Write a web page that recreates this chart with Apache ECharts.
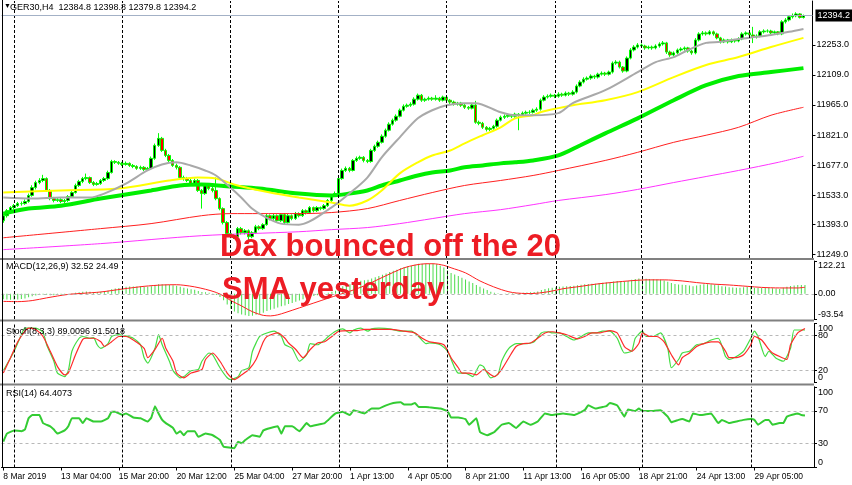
<!DOCTYPE html>
<html><head><meta charset="utf-8">
<script src="https://cdn.jsdelivr.net/npm/echarts@6/dist/echarts.min.js"></script>
<style>html,body{margin:0;padding:0;background:#fff}#c{width:852px;height:485px}</style>
</head><body><div id="c"></div>
<script>
// ---------- DATA ----------
const slotCount = 225; // bar slots incl. right-hand chart shift
const timeLabels = [[0,'8 Mar 2019'],[16,'13 Mar 04:00'],[32,'15 Mar 20:00'],[48,'20 Mar 12:00'],[64,'25 Mar 04:00'],[80,'27 Mar 20:00'],[96,'1 Apr 13:00'],[112,'4 Apr 05:00'],[128,'8 Apr 21:00'],[144,'11 Apr 13:00'],[160,'16 Apr 05:00'],[176,'18 Apr 21:00'],[192,'24 Apr 13:00'],[208,'29 Apr 05:00']];
const weekStarts = [3,33,63,93,123,153,177,207];
const priceTicks = [11249,11393,11533,11677,11821,11965,12109,12253];
const macdTicks = [-93.54,0,122.21];
const stochInnerTicks = [20,80];
const rsiInnerTicks = [30,70];
const edgeTicks = [0,100];
const lastPrice = 12394.2;
// [open, close, low, high]
const ohlc = [
[11410,11434,11400,11445],[11434,11458,11425,11466],[11458,11473,11450,11480],[11473,11482,11465,11490],[11482,11492,11476,11500],
[11492,11492,11482,11502],[11492,11502,11486,11512],[11502,11531,11496,11540],[11531,11569,11525,11580],[11569,11593,11560,11602],
[11593,11603,11585,11614],[11603,11612,11595,11630],[11612,11555,11548,11618],[11555,11516,11508,11562],[11516,11507,11498,11524],
[11507,11511,11500,11520],[11511,11502,11494,11518],[11502,11507,11495,11514],[11507,11526,11500,11533],[11526,11545,11520,11552],
[11545,11579,11540,11588],[11579,11598,11572,11606],[11598,11612,11590,11620],[11612,11617,11604,11636],[11617,11593,11586,11622],
[11593,11584,11576,11600],[11584,11588,11578,11596],[11588,11603,11582,11610],[11603,11612,11596,11620],[11612,11641,11606,11650],
[11641,11694,11636,11702],[11694,11690,11682,11700],[11690,11685,11678,11696],[11685,11680,11672,11692],[11680,11685,11674,11694],
[11685,11675,11668,11690],[11675,11670,11662,11682],[11670,11661,11654,11676],[11661,11666,11654,11674],[11666,11656,11648,11672],
[11656,11661,11650,11668],[11661,11709,11655,11718],[11709,11771,11702,11780],[11771,11805,11764,11830],[11805,11747,11740,11812],
[11747,11723,11715,11755],[11723,11699,11690,11730],[11699,11675,11668,11706],[11675,11666,11656,11684],[11666,11617,11610,11672],
[11617,11612,11602,11626],[11612,11603,11595,11620],[11603,11588,11580,11610],[11588,11603,11582,11612],[11603,11555,11548,11610],
[11555,11540,11468,11562],[11540,11579,11534,11588],[11579,11564,11556,11586],[11564,11555,11546,11572],[11555,11516,11508,11617],
[11516,11468,11460,11522],[11468,11401,11392,11474],[11401,11348,11340,11408],[11348,11338,11326,11356],[11338,11333,11322,11346],
[11333,11372,11326,11380],[11372,11352,11344,11380],[11352,11362,11344,11370],[11362,11333,11304,11368],[11333,11352,11326,11360],
[11352,11381,11346,11390],[11381,11372,11364,11388],[11372,11391,11366,11398],[11391,11434,11386,11442],[11434,11420,11412,11440],
[11420,11434,11414,11442],[11434,11410,11402,11440],[11410,11439,11404,11446],[11439,11401,11394,11446],[11401,11434,11396,11442],
[11434,11420,11412,11440],[11420,11444,11414,11452],[11444,11434,11426,11450],[11434,11458,11428,11466],[11458,11449,11440,11464],
[11449,11473,11444,11480],[11473,11458,11450,11478],[11458,11473,11452,11480],[11473,11468,11460,11478],[11468,11482,11462,11490],
[11482,11507,11476,11514],[11507,11531,11500,11538],[11531,11540,11524,11550],[11540,11612,11534,11620],[11612,11651,11606,11660],
[11651,11661,11644,11670],[11661,11651,11642,11668],[11651,11699,11646,11706],[11699,11709,11692,11718],[11709,11714,11702,11722],
[11714,11699,11690,11720],[11699,11694,11686,11706],[11694,11747,11688,11755],[11747,11767,11740,11775],[11767,11786,11760,11794],
[11786,11815,11780,11824],[11815,11844,11808,11852],[11844,11873,11838,11882],[11873,11892,11866,11900],[11892,11911,11885,11920],
[11911,11940,11905,11948],[11940,11959,11934,11968],[11959,11964,11952,11972],[11964,11969,11956,11978],[11969,11993,11962,12002],
[11993,12012,11986,12020],[12012,11988,11980,12018],[11988,11993,11980,12000],[11993,11998,11986,12006],[11998,11993,11985,12004],
[11993,11998,11986,12012],[11998,11988,11980,12004],[11988,12003,11982,12010],[12003,11988,11980,12008],[11988,11979,11970,11994],
[11979,11969,11962,11986],[11969,11974,11962,11980],[11974,11964,11956,11980],[11964,11954,11946,11970],[11954,11950,11942,11960],
[11950,11965,11944,11972],[11965,11882,11875,11985],[11882,11877,11868,11890],[11877,11858,11850,11884],[11858,11848,11838,11864],
[11848,11853,11840,11860],[11853,11863,11846,11870],[11863,11892,11856,11900],[11892,11906,11886,11914],[11906,11911,11898,11920],
[11911,11916,11904,11924],[11916,11911,11902,11922],[11911,11921,11904,11928],[11921,11916,11844,11926],[11916,11926,11910,11934],
[11926,11930,11918,11938],[11930,11930,11922,11940],[11930,11940,11924,11948],[11940,11945,11932,11954],[11945,11988,11938,11996],
[11988,12003,11982,12012],[12003,12007,11996,12016],[12007,12012,12000,12020],[12012,12007,11998,12018],[12007,12017,12000,12026],
[12017,12012,12004,12024],[12012,12022,12006,12030],[12022,12017,12008,12028],[12017,12027,12010,12036],[12027,12056,12020,12064],
[12056,12075,12050,12084],[12075,12089,12068,12098],[12089,12094,12082,12102],[12094,12104,12086,12112],[12104,12099,12090,12110],
[12099,12113,12092,12120],[12113,12118,12106,12126],[12118,12113,12104,12124],[12113,12123,12106,12130],[12123,12166,12116,12174],
[12166,12171,12158,12180],[12171,12147,12140,12178],[12147,12128,12120,12152],[12128,12190,12122,12198],[12190,12229,12184,12238],
[12229,12243,12222,12252],[12243,12253,12236,12262],[12253,12248,12240,12260],[12248,12239,12230,12254],[12239,12243,12232,12250],
[12243,12239,12230,12250],[12239,12248,12232,12256],[12248,12258,12240,12266],[12258,12263,12250,12272],[12263,12219,12210,12268],
[12219,12205,12196,12226],[12205,12215,12198,12222],[12215,12229,12208,12236],[12229,12234,12222,12242],[12234,12239,12226,12246],
[12239,12224,12216,12244],[12224,12215,12206,12230],[12215,12277,12208,12286],[12277,12306,12270,12314],[12306,12311,12298,12320],
[12311,12306,12298,12318],[12306,12316,12300,12324],[12316,12306,12298,12322],[12306,12287,12280,12312],[12287,12268,12260,12292],
[12268,12277,12262,12284],[12277,12268,12260,12282],[12268,12277,12262,12284],[12277,12272,12264,12282],[12272,12282,12266,12290],
[12282,12306,12276,12314],[12306,12311,12298,12318],[12311,12301,12292,12316],[12301,12292,12262,12340],[12292,12296,12284,12304],
[12296,12316,12290,12324],[12316,12320,12308,12328],[12320,12320,12312,12328],[12320,12311,12304,12326],[12311,12316,12304,12322],
[12316,12306,12300,12320],[12306,12364,12300,12372],[12364,12373,12356,12382],[12373,12388,12366,12396],[12388,12393,12380,12404],
[12393,12402,12386,12410],[12402,12385,12380,12406],[12384.8,12394.2,12379.8,12398.8]
];
// moving averages: [bar index, value]
const maGray = [[0,11521],[8,11516],[16,11521],[24,11521],[28,11540],[34,11588],[40,11651],[44,11680],[48,11690],[52,11675],[56,11651],[59,11627],[63,11569],[66,11521],[69,11468],[72,11434],[77,11396],[82,11391],[91,11473],[96,11540],[101,11617],[105,11714],[110,11810],[115,11901],[119,11940],[123,11964],[128,11974],[131,11974],[138,11930],[142,11916],[147,11916],[154,11926],[158,11974],[167,12036],[176,12123],[181,12171],[186,12195],[190,12229],[195,12263],[199,12268],[204,12282],[209,12292],[213,12301],[218,12316],[222,12330]];
const maYellow = [[0,11545],[16,11555],[32,11564],[46,11603],[54,11617],[59,11612],[65,11579],[74,11545],[82,11521],[91,11497],[96,11482],[101,11507],[105,11555],[110,11637],[115,11690],[119,11723],[124,11747],[128,11781],[133,11820],[138,11858],[142,11901],[147,11916],[149,11930],[154,11950],[158,11964],[167,11988],[176,12027],[186,12099],[195,12157],[204,12195],[213,12243],[222,12287]];
const maGreen = [[0,11444],[7,11468],[16,11482],[27,11516],[41,11555],[49,11579],[55,11584],[63,11574],[71,11564],[82,11540],[91,11531],[96,11540],[101,11555],[105,11579],[110,11603],[115,11627],[119,11641],[124,11651],[128,11666],[133,11675],[138,11685],[142,11690],[147,11699],[154,11723],[160,11771],[167,11829],[176,11901],[186,11988],[195,12060],[204,12104],[213,12123],[222,12142]];
const maRed = [[0,11328],[27,11372],[41,11396],[55,11434],[63,11444],[71,11444],[82,11444],[91,11449],[101,11468],[110,11507],[119,11545],[128,11579],[138,11603],[147,11627],[154,11651],[167,11699],[176,11738],[186,11786],[195,11820],[204,11858],[213,11916],[222,11954]];
const maMagenta = [[0,11271],[27,11300],[55,11338],[82,11357],[91,11367],[101,11377],[110,11396],[119,11420],[128,11444],[138,11463],[147,11487],[154,11507],[167,11535],[176,11560],[186,11593],[195,11622],[204,11651],[215,11690],[222,11719]];
// MACD main (histogram), one value per bar
const macdMain = [-20,-21,-22,-22,-21,-19,-17,-13,-9,-6,-4,-2,-3,-5,-5,-4,-3,-2,0,2,4,6,8,9,8,7,7,8,9,12,17,20,22,24,26,27,27,27,27,26,26,28,32,36,36,35,34,32,30,26,23,20,17,15,11,7,6,4,1,-4,-12,-24,-40,-55,-66,-72,-77,-80,-82,-81,-78,-75,-70,-64,-59,-55,-51,-46,-43,-38,-34,-29,-25,-20,-16,-12,-8,-5,-2,1,4,8,12,20,28,33,36,41,45,49,51,52,57,62,66,71,76,81,86,90,95,99,102,104,108,112,112,113,113,112,110,105,98,88,78,72,66,60,53,46,40,33,26,20,14,8,4,2,0,1,2,2,3,3,4,5,6,7,9,14,18,21,23,24,26,27,28,29,30,32,34,36,37,38,38,40,41,42,43,46,48,47,45,48,52,55,57,57,56,55,54,53,52,50,45,40,37,35,34,33,31,28,31,34,36,36,36,35,32,28,27,25,24,23,23,25,26,25,23,22,22,22,22,21,20,18,23,26,29,31,33,33,32.52];
const macdSignal = [[0,-28],[4,-29],[8,-25],[12,-15],[15,-8],[18,-2],[22,2],[27,7],[33,18],[39,28],[44,33],[48,34],[50,32],[53,26],[56,17],[59,5],[61,-8],[63,-25],[66,-45],[68,-60],[70,-72],[72,-80],[74,-82],[76,-78],[78,-70],[82,-52],[86,-34],[90,-16],[93,-3],[96,10],[100,30],[104,55],[108,80],[111,97],[114,107],[117,112],[119,112],[122,106],[124,97],[128,78],[132,48],[137,20],[141,5],[146,1],[151,8],[155,19],[160,28],[164,36],[169,43],[174,49],[178,52],[183,52],[188,48],[192,42],[197,36],[201,33],[206,28],[210,24],[215,22],[220,22],[222,24.49]];
const stochMain = [[0,20],[3,53],[5,81],[6,92],[9,92],[11,85],[12,64],[14,36],[15,16],[17,10],[18,20],[19,53],[21,75],[22,78],[24,75],[25,76],[26,64],[27,58],[29,66],[30,78],[32,81],[33,80],[36,75],[38,64],[39,42],[40,33],[42,58],[43,81],[44,64],[46,36],[47,20],[49,8],[50,10],[52,20],[54,22],[55,36],[57,50],[58,47],[60,25],[62,8],[63,5],[65,10],[66,20],[68,25],[69,53],[71,78],[73,84],[75,87],[77,78],[78,64],[80,58],[82,36],[84,47],[85,66],[87,64],[89,72],[90,78],[92,87],[94,91],[96,84],[97,89],[99,92],[101,87],[102,91],[104,92],[107,91],[110,87],[113,87],[115,78],[117,66],[118,67],[121,64],[123,53],[125,25],[126,16],[128,16],[130,10],[132,30],[133,27],[135,8],[137,14],[138,36],[140,58],[142,66],[145,66],[147,69],[149,84],[151,86],[152,84],[154,84],[156,78],[158,72],[160,78],[162,84],[164,84],[166,87],[168,87],[170,75],[172,50],[174,53],[175,75],[177,87],[178,78],[180,78],[182,84],[184,58],[185,25],[187,39],[188,50],[190,53],[192,64],[194,66],[196,72],[198,75],[200,44],[201,39],[203,44],[205,53],[207,75],[208,87],[209,78],[211,44],[212,53],[214,41],[216,36],[218,58],[219,89],[221,89],[222,89.01]];
const stochSignal = [[0,16],[2,42],[4,69],[6,87],[7,92],[9,90],[11,78],[13,53],[15,27],[17,13],[18,16],[20,47],[22,73],[23,75],[25,75],[27,69],[28,61],[30,69],[32,78],[34,78],[36,72],[39,58],[40,42],[42,56],[44,75],[45,58],[47,36],[48,16],[50,8],[52,16],[55,22],[56,39],[58,50],[60,36],[62,16],[64,5],[66,13],[68,22],[70,39],[72,69],[73,78],[76,84],[78,75],[79,67],[81,56],[83,42],[85,56],[87,67],[89,69],[91,78],[93,87],[96,88],[98,88],[100,90],[103,90],[107,90],[111,87],[114,84],[116,75],[118,69],[122,64],[124,42],[126,25],[127,16],[129,16],[131,13],[133,22],[135,13],[136,10],[138,22],[140,42],[142,61],[144,66],[146,67],[148,75],[150,84],[152,86],[154,84],[156,81],[159,74],[161,78],[163,84],[165,84],[168,88],[170,84],[172,61],[174,53],[176,66],[177,84],[179,78],[181,78],[183,69],[185,47],[187,30],[188,42],[190,50],[192,61],[194,66],[196,69],[198,69],[200,53],[201,42],[203,42],[205,47],[207,64],[208,78],[210,72],[212,56],[213,50],[215,44],[217,39],[218,64],[220,84],[222,91.5]];
const rsiLine = [[0,32],[1,42],[3,46],[5,45],[6,47],[7,61],[8,65],[10,65],[11,55],[13,51],[14,47],[15,42],[17,46],[18,51],[19,61],[21,61],[22,55],[23,61],[25,57],[27,57],[29,61],[30,69],[31,69],[33,65],[34,67],[36,62],[38,61],[40,57],[41,62],[42,76],[43,67],[44,59],[45,55],[47,49],[48,42],[49,45],[50,40],[51,45],[53,45],[54,38],[56,42],[58,40],[60,34],[61,26],[64,24],[65,32],[66,30],[67,34],[69,40],[71,38],[72,46],[74,49],[76,51],[77,42],[78,51],[80,51],[82,45],[84,55],[85,51],[87,53],[89,55],[90,59],[92,67],[94,69],[96,65],[97,71],[100,67],[102,73],[104,73],[106,77],[108,80],[110,81],[111,78],[113,78],[114,80],[115,75],[117,75],[118,74.5],[121,73],[123,70],[124,62],[126,62],[128,60],[129,53],[131,61],[132,44],[134,40],[136,44],[138,53],[140,55],[142,49],[144,57],[146,53],[148,57],[150,67],[152,65],[155,67],[158,65],[161,71],[162,77],[164,73],[166,75],[167,76],[168,80],[170,77],[172,63],[173,72],[175,70],[176,73],[177,70],[180,70],[182,71],[184,63],[185,56],[187,59],[188,60],[190,57],[191,67],[193,65],[196,67],[198,55],[199,59],[201,55],[203,57],[205,59],[207,60],[208,59],[209,53],[211,59],[212,59],[213,53],[215,55],[216,55],[217,63],[220,67],[221,65],[222,64.41]];

// ---------- LAYOUT ----------
const panels = [
  {top: 1, height: 257},
  {top: 261, height: 58},
  {top: 323.5, height: 59},
  {top: 386.8, height: 80.7}
];
const FONT = '"Liberation Sans", Arial, sans-serif';
const cats = Array.from({length: slotCount}, (_, i) => String(i));
const labelMap = Object.fromEntries(timeLabels);
const weekMarks = weekStarts.map(i => ({xAxis: String(i)}));
const weekStyle = {color: '#000', type: [3, 2], width: 1};
const levelStyle = {color: '#b8b8b8', type: [3, 3], width: 1};

function hiddenX(k) {
  return {type: 'category', gridIndex: k, data: cats, boundaryGap: true,
    axisLine: {show: false}, axisTick: {show: false}, axisLabel: {show: false}, splitLine: {show: false}};
}
function rightY(k, min, max, tickVals, labelVals, fmt, edge) {
  const lab = {customValues: labelVals, formatter: fmt, fontSize: 9, color: '#000', margin: 4, fontFamily: FONT,
    hideOverlap: false};
  if (edge) { lab.verticalAlignMinLabel = 'bottom'; lab.verticalAlignMaxLabel = 'top'; lab.showMinLabel = true; lab.showMaxLabel = true; }
  return {type: 'value', gridIndex: k, position: 'right', min: min, max: max,
    axisLine: {show: true, lineStyle: {color: '#000', width: 1}},
    axisTick: {show: true, length: 3, customValues: tickVals, lineStyle: {color: '#000'}},
    axisLabel: lab, splitLine: {show: false}};
}
function levelMarks(levels) {
  return levels.map(v => ({yAxis: v, lineStyle: levelStyle}));
}
function maSeries(data, color, width) {
  return {type: 'line', xAxisIndex: 0, yAxisIndex: 0, data: data, showSymbol: false, smooth: 0.3,
    lineStyle: {color: color, width: width}, z: 3, silent: true};
}
function txt(x, y, s, font, extra) {
  return {type: 'text', x: x, y: y, z: 40, silent: true,
    style: Object.assign({text: s, font: font, fill: '#000'}, extra || {})};
}

const graphics = [
  {type: 'rect', shape: {x: 0, y: 258, width: 814, height: 2}, style: {fill: '#808080'}, z: 10, silent: true},
  {type: 'rect', shape: {x: 0, y: 319.5, width: 814, height: 2}, style: {fill: '#808080'}, z: 10, silent: true},
  {type: 'rect', shape: {x: 0, y: 383.5, width: 814, height: 2}, style: {fill: '#808080'}, z: 10, silent: true},
  {type: 'line', shape: {x1: 2.5, y1: 0, x2: 2.5, y2: 468}, style: {stroke: '#000', lineWidth: 1}, z: 10, silent: true},
  txt(818, panels[2].top + 1, String(edgeTicks[1]), '9px ' + FONT, {verticalAlign: 'top'}),
  txt(818, panels[2].top + panels[2].height, String(edgeTicks[0]), '9px ' + FONT, {verticalAlign: 'bottom'}),
  txt(818, panels[3].top + panels[3].height, String(edgeTicks[0]), '9px ' + FONT, {verticalAlign: 'bottom'}),
  txt(4, 3, '\u25BC', '7px ' + FONT),
  txt(10, 3, 'GER30,H4  12384.8 12398.8 12379.8 12394.2', '9px ' + FONT),
  txt(6, 262.5, 'MACD(12,26,9) 32.52 24.49', '9px ' + FONT),
  txt(6, 327.5, 'Stoch(8,3,3) 89.0096 91.5018', '9px ' + FONT),
  txt(6, 389.5, 'RSI(14) 64.4073', '9px ' + FONT),
  txt(220, 247, 'Dax bounced off the 20', 'bold 31px ' + FONT, {fill: '#ed1c24', verticalAlign: 'middle'}),
  txt(222, 290, 'SMA yesterday', 'bold 31px ' + FONT, {fill: '#ed1c24', verticalAlign: 'middle'})
];

const rsiAxis = rightY(3, 0, 100, rsiInnerTicks.concat(edgeTicks), rsiInnerTicks, (v) => String(v), false);
// the 100 edge label of the RSI scale, shown as the axis name at the top end
rsiAxis.name = String(edgeTicks[1]);
rsiAxis.nameLocation = 'end';
rsiAxis.nameGap = -1;
rsiAxis.nameTextStyle = {align: 'left', verticalAlign: 'top', fontSize: 9, color: '#000', fontFamily: FONT, padding: [0, 0, 0, 4]};

const chart = echarts.init(document.getElementById('c'), null, {renderer: 'canvas'});
chart.setOption({
  animation: false,
  backgroundColor: '#fff',
  grid: panels.map(p => ({left: 1.5, right: 38, top: p.top, height: p.height})),
  xAxis: [hiddenX(0), hiddenX(1), hiddenX(2), {
    type: 'category', gridIndex: 3, data: cats, boundaryGap: true,
    axisLine: {show: true, lineStyle: {color: '#000'}},
    axisTick: {show: true, alignWithLabel: true, length: 3, interval: (i) => (i in labelMap), lineStyle: {color: '#000'}},
    axisLabel: {show: true, interval: (i) => (i in labelMap), formatter: (v) => labelMap[v] || '',
      align: 'left', fontSize: 8.5, color: '#000', margin: 5, fontFamily: FONT},
    splitLine: {show: false}
  }],
  yAxis: [
    rightY(0, 11231, 12464, priceTicks, priceTicks, (v) => v.toFixed(1), false),
    rightY(1, -93.54, 122.21, macdTicks, macdTicks, (v) => v.toFixed(2), true),
    rightY(2, 0, 100, stochInnerTicks.concat(edgeTicks), stochInnerTicks, (v) => String(v), false),
    rsiAxis
  ],
  series: [
    {type: 'candlestick', xAxisIndex: 0, yAxisIndex: 0, data: ohlc, barWidth: 3, z: 2,
      itemStyle: {color: '#000', color0: '#ff0000', borderColor: '#00ff00', borderColor0: '#00ff00', borderColorDoji: '#00ff00', borderWidth: 1},
      markLine: {silent: true, symbol: ['none', 'none'], animation: false, label: {show: false},
        data: weekMarks.map(m => Object.assign({lineStyle: weekStyle}, m)).concat([
          {yAxis: lastPrice, lineStyle: {color: '#a3b1c6', type: 'solid', width: 1},
           label: {show: true, position: 'end', formatter: '12394.2', color: '#fff', backgroundColor: '#000',
                   padding: [2, 2, 1, 2], fontSize: 9, fontFamily: FONT, distance: 3}}
        ])}},
    maSeries(maMagenta, '#ff33ff', 1),
    maSeries(maRed, '#ff2020', 1),
    maSeries(maGreen, '#00ee00', 4),
    maSeries(maYellow, '#ffff00', 2),
    maSeries(maGray, '#a9a9a9', 2),
    {type: 'bar', xAxisIndex: 1, yAxisIndex: 1, data: macdMain, barWidth: 1, itemStyle: {color: '#4cdc4c'}, silent: true,
      markLine: {silent: true, symbol: ['none', 'none'], animation: false, label: {show: false},
        data: weekMarks.map(m => Object.assign({lineStyle: weekStyle}, m)).concat(levelMarks([0]))}},
    {type: 'line', xAxisIndex: 1, yAxisIndex: 1, data: macdSignal, showSymbol: false, smooth: 0.3,
      lineStyle: {color: '#ff2020', width: 1}, silent: true, z: 3},
    {type: 'line', xAxisIndex: 2, yAxisIndex: 2, data: stochMain, showSymbol: false, smooth: 0.2,
      lineStyle: {color: '#44dd44', width: 1.2}, silent: true, z: 3,
      markLine: {silent: true, symbol: ['none', 'none'], animation: false, label: {show: false},
        data: weekMarks.map(m => Object.assign({lineStyle: weekStyle}, m)).concat(levelMarks([20, 80]))}},
    {type: 'line', xAxisIndex: 2, yAxisIndex: 2, data: stochSignal, showSymbol: false, smooth: 0.2,
      lineStyle: {color: '#ff2a2a', width: 1.2}, silent: true, z: 4},
    {type: 'line', xAxisIndex: 3, yAxisIndex: 3, data: rsiLine, showSymbol: false, smooth: 0.1,
      lineStyle: {color: '#33cc33', width: 2}, silent: true, z: 3,
      markLine: {silent: true, symbol: ['none', 'none'], animation: false, label: {show: false},
        data: weekMarks.map(m => Object.assign({lineStyle: weekStyle}, m)).concat(levelMarks([30, 70]))}}
  ],
  graphic: graphics
});
</script></body></html>
